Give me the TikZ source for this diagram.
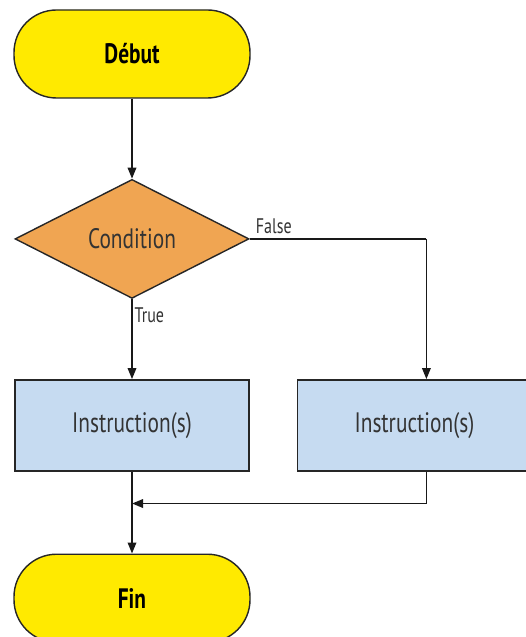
\documentclass[tikz,border=0pt]{standalone}
\usepackage{fontspec}
\setmainfont{PT Sans}[FakeStretch=0.76]
\usepackage{xcolor}
\usetikzlibrary{arrows.meta,positioning,shapes.geometric}
\definecolor{termyellow}{HTML}{FFEA00}
\definecolor{condorange}{HTML}{F0A552}
\definecolor{instrblue}{HTML}{C6DBF1}
\tikzset{
  flowarrow/.style={-{Triangle[length=2.2mm,width=1.7mm]}, line width=1pt,
    draw=black!90},
  flowline/.style={line width=1pt, draw=black!90},
  flowterm/.style={draw=black!85, fill=termyellow, rounded corners=8.5mm,
    minimum width=47.2mm, minimum height=17.6mm, line width=0.8pt,
    font=\fontsize{16}{19}\selectfont\bfseries},
  flowcond/.style={diamond, draw=black!85, fill=condorange,
    minimum width=46.8mm, minimum height=23.8mm, inner sep=0pt,
    line width=0.8pt, text=black!80, font=\fontsize{16}{19}\selectfont},
  flowinstr/.style={draw=black!85, fill=instrblue, minimum width=46.8mm,
    minimum height=18.2mm, line width=0.8pt, text=black!80,
    font=\fontsize{16}{19}\selectfont},
  flowlabel/.style={font=\fontsize{12}{14}\selectfont, text=black!80,
    inner sep=1pt}
}
\begin{document}
\begin{tikzpicture}[node distance=16mm and 9.4mm]
  \useasboundingbox (0,0) rectangle (105.2mm,-127.4mm);
  \node[flowterm] (start) at (26.4mm,-10.8mm) {Début};
  \node[flowcond, below=16mm of start] (cond) {Condition};
  \node[flowinstr, below=16mm of cond] (instrtrue) {Instruction(s)};
  \node[flowinstr, right=of instrtrue] (instrfalse) {Instruction(s)};
  \node[flowterm, below=16.4mm of instrtrue] (finish) {Fin};

  \coordinate (turn) at ([xshift=2.4mm]instrfalse.north |- cond.east);
  \coordinate (merge) at ([yshift=-6.4mm]instrtrue.south);

  \draw[flowarrow] (start) -- (cond);
  \draw[flowarrow] (cond) -- node[flowlabel, pos=0.2, right] {True}
    (instrtrue);
  \draw[flowline] (cond.east) -- node[flowlabel, pos=0.02, above right,
    yshift=0.6mm] {False} (turn);
  \draw[flowarrow] (turn) -- (turn |- instrfalse.north);
  \draw[flowline] (instrtrue) -- (merge);
  \draw[flowarrow] (turn |- instrfalse.south) |- (merge);
  \draw[flowarrow] (merge) -- (finish);
\end{tikzpicture}
\end{document}
